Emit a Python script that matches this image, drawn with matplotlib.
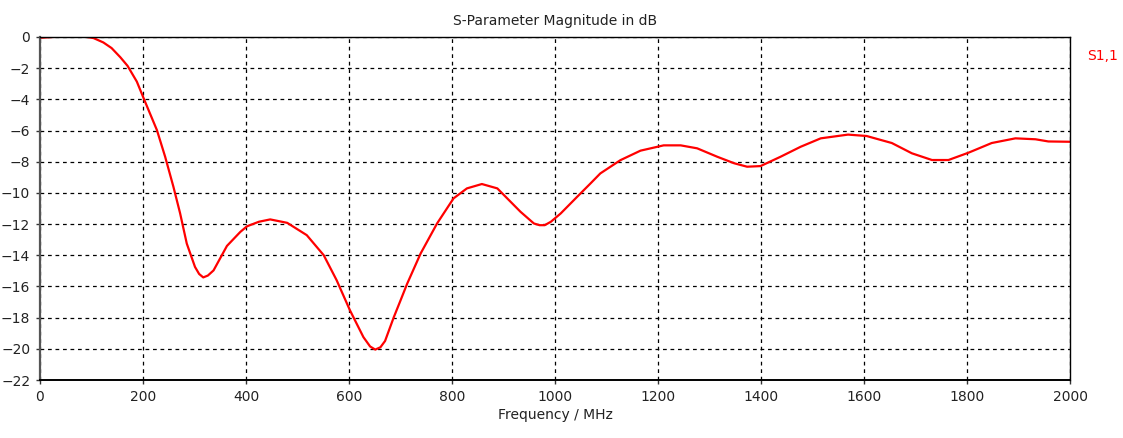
import matplotlib.pyplot as plt

# frequency (MHz) and |S11| (dB)
freq_mhz = [0, 10, 39, 60, 84, 104, 123, 139, 156, 170, 188, 204, 227, 243,
            259, 272, 285, 301, 309, 317, 326, 337, 363, 389, 402, 425, 447,
            480, 518, 551, 576, 602, 628, 641, 651, 661, 670, 687, 700, 713,
            739, 771, 803, 829, 858, 888, 933, 959, 970, 980, 992, 1011, 1043,
            1069, 1088, 1127, 1166, 1211, 1244, 1276, 1315, 1348, 1373, 1399,
            1438, 1477, 1516, 1569, 1605, 1654, 1693, 1732, 1764, 1803, 1848,
            1894, 1933, 1958, 2000]
s11_db = [-0.05, -0.03, 0.03, 0.05, 0.04, -0.07, -0.35, -0.71, -1.3, -1.85,
          -2.86, -4.15, -5.97, -7.68, -9.6, -11.3, -13.25, -14.75, -15.2,
          -15.42, -15.3, -14.97, -13.4, -12.5, -12.14, -11.85, -11.7, -11.92,
          -12.71, -14.0, -15.6, -17.54, -19.25, -19.85, -20.05, -19.9, -19.5,
          -17.97, -16.9, -15.82, -13.89, -11.96, -10.35, -9.71, -9.43, -9.71,
          -11.21, -11.96, -12.07, -12.07, -11.85, -11.32, -10.25, -9.39,
          -8.75, -7.9, -7.29, -6.95, -6.95, -7.14, -7.68, -8.1, -8.32, -8.28,
          -7.68, -7.04, -6.5, -6.26, -6.35, -6.8, -7.46, -7.89, -7.89, -7.42,
          -6.8, -6.5, -6.56, -6.7, -6.72]

x_ticks = list(range(0, 2001, 200))
y_ticks = list(range(0, -23, -2))

plt.rcParams["font.family"] = ["DejaVu Sans"]
fig = plt.figure(figsize=(11.23, 4.38), dpi=100)
ax = fig.add_axes([40 / 1123, 1 - 380 / 438, 1030 / 1123, 343 / 438])

ax.plot(freq_mhz, s11_db, color="#ff0000", lw=1.6, solid_joinstyle="round")

ax.set_xlim(0, 2000)
ax.set_ylim(-22, 0)
ax.set_xticks(x_ticks)
ax.set_yticks(y_ticks)
ax.tick_params(labelsize=10, length=3, width=1, color="#333333",
               labelcolor="#222222", pad=4)
ax.grid(True, color="black", linestyle=(0, (3, 3)), lw=0.9)

for side, sp in ax.spines.items():
    sp.set_color("black")
    sp.set_linewidth(1.0)
ax.spines["left"].set_color("#555555")
ax.spines["left"].set_linewidth(1.6)
ax.spines["bottom"].set_linewidth(1.4)

ax.set_title("S-Parameter Magnitude in dB", fontsize=10, color="#222222", pad=9)
ax.set_xlabel("Frequency / MHz", fontsize=10, color="#222222", labelpad=3)
fig.text(1087 / 1123, 1 - 56 / 438, "S1,1", color="#ff0000", fontsize=10,
         va="center", ha="left")

fig.savefig("out.png", dpi=100)
